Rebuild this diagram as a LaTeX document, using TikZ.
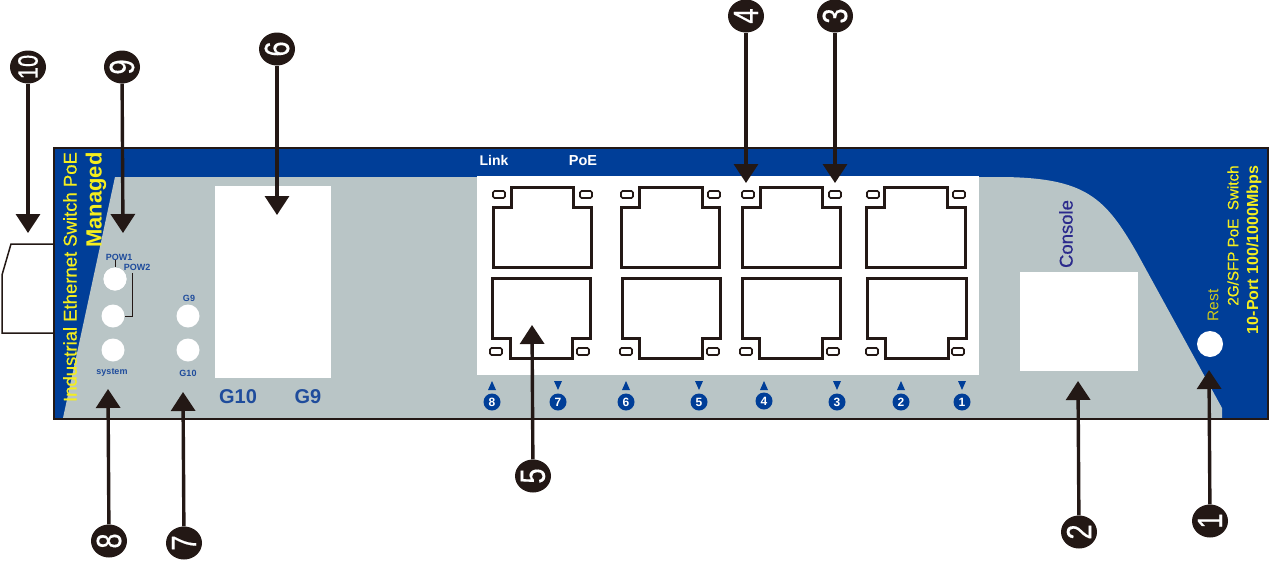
\documentclass[tikz,border=0pt]{standalone}
\usepackage{fontspec}
\setmainfont{Liberation Sans}
\newfontfamily\medfont[FakeBold=0.4]{Liberation Sans}
\usetikzlibrary{arrows.meta,shapes.geometric}
\definecolor{panelblue}{HTML}{003E98}
\definecolor{panelgrey}{HTML}{B9C5C6}
\definecolor{inkdark}{HTML}{231815}
\definecolor{labelblue}{HTML}{1F4C9C}
\definecolor{consoleblue}{HTML}{2B2A8C}
\definecolor{yellowtxt}{HTML}{F5EE1E}
\newcommand{\fs}[1]{\fontsize{#1}{#1}\selectfont}
\newcommand{\tallnum}[1]{\scalebox{0.78}[1]{#1}}
\tikzset{
  portline/.style={draw=inkdark,line width=3pt,fill=white,miter limit=10},
  ledbox/.style={draw=inkdark,line width=1.7pt,fill=white,rounded corners=1.5pt},
  hole/.style={circle,fill=white,draw=none,inner sep=0pt,minimum size=23pt},
  callout/.style={ellipse,fill=inkdark,draw=none,inner sep=-4pt,minimum width=33pt,minimum height=36pt,text=white,font=\medfont\fs{35},rotate=90},
  callarrow/.style={draw=inkdark,line width=3.4pt,-{Triangle[width=24pt,length=19pt,fill=inkdark]}},
  lbl/.style={inner sep=0pt,text=labelblue,font=\fs{9}\bfseries},
  biglbl/.style={inner sep=0pt,text=labelblue,font=\fs{20}\bfseries},
  yvert/.style={inner sep=0pt,text=yellowtxt,rotate=90},
  portnum/.style={circle,fill=panelblue,inner sep=0pt,minimum size=17pt,text=white,font=\fs{12}\bfseries},
  tri/.style={fill=panelblue,draw=none},
}
\newcommand{\PortUp}[6]{
  \draw[portline] (#1,207)--(#2,207)--(#2,187)--(#3,187)--(#3,207)--(#4,207)--(#4,267)--(#1,267)--cycle;
  \draw[ledbox] (#5,191) rectangle ++(12,7);
  \draw[ledbox] (#6,191) rectangle ++(12,7);
}
\newcommand{\PortDown}[6]{
  \draw[portline] (#1,278)--(#4,278)--(#4,338)--(#3,338)--(#3,358)--(#2,358)--(#2,338)--(#1,338)--cycle;
  \draw[ledbox] (#5,348) rectangle ++(12,7);
  \draw[ledbox] (#6,348) rectangle ++(12,7);
}
\begin{document}
\begin{tikzpicture}[x=1pt,y=-1pt]
\useasboundingbox (0,0) rectangle (1269,560);
% left module
\draw[draw=inkdark,line width=1.5pt,fill=white] (54,244)--(11,244)--(2,275)--(2,333)--(54,333);
% panel
\fill[panelblue] (54,148) rectangle (1268,419);
\fill[panelgrey] (115,177)--(1003,177)
  .. controls (1085,178) and (1105,197) .. (1137,253)
  --(1222,408)--(1222,418)--(63,418)--cycle;
\draw[inkdark,line width=1.5pt] (54,148) rectangle (1268,419);
% white zones
\fill[white] (477,176) rectangle (979,375);
\fill[white] (215,186) rectangle (331,378);
\fill[white] (1020,272) rectangle (1138,371);
% ports
\PortUp{493}{511}{573}{591}{493}{580}
\PortUp{621}{639}{702}{719}{621}{708}
\PortUp{742}{760}{822}{840}{742}{829}
\PortUp{866}{884}{947}{965}{867}{953}
\PortDown{492}{510}{572}{590}{490}{577}
\PortDown{622}{639}{702}{720}{620}{707}
\PortDown{742}{759}{822}{840}{740}{827}
\PortDown{867}{885}{948}{966}{866}{952}
% top labels
\node[inner sep=0pt,text=white,font=\fs{14}\bfseries] (link) at (494,160) {Link};
\node[inner sep=0pt,text=white,font=\fs{14.5}\bfseries] (poe) at (583,161) {PoE};
% port numbers
\foreach \nn/\px/\py/\updir in {8/492/402/1,7/558/402/0,6/626/402/1,5/699/402/0,4/764/401/1,3/837/402/0,2/901/402/1,1/962/402/0}{
  \node[portnum] (pn\nn) at (\px,\py) {\nn};
  \ifnum\updir=1
    \fill[tri] (\px-4,390)--(\px+4,390)--(\px,381)--cycle;
  \else
    \fill[tri] (\px-4,381)--(\px+4,381)--(\px,390)--cycle;
  \fi
}
% leds
\node[hole] (pow1) at (115,279) {};
\node[hole] (pow2) at (113,316) {};
\node[hole] (sys) at (113,350) {};
\node[hole] (g9led) at (188,316) {};
\node[hole] (g10led) at (188,350) {};
\node[hole,minimum size=26pt] (rest) at (1210,344) {};
\node[lbl] (pow1t) at (119,257) {POW1};
\node[lbl] (pow2t) at (137,267) {POW2};
\node[lbl] (syst) at (112,372) {system};
\node[lbl] (g9t) at (189,298) {G9};
\node[lbl] (g10t) at (188,373) {G10};
\node[biglbl] (g10b) at (238,397) {G10};
\node[biglbl] (g9b) at (308,397) {G9};
\draw[inkdark,line width=1pt] (pow1t.south -| pow1) -- (pow1);
\coordinate (pow2a) at (132,273);
\coordinate (pow2b) at (132,316);
\draw[inkdark,line width=1pt] (pow2a)--(pow2b)--(pow2.east);
\node[hole] at (115,279) {};
% vertical text
\node[yvert,font=\medfont\fs{18.5}] (ind) at (70,277) {Industrial Ethernet Switch PoE};
\node[yvert,font=\fs{22}\bfseries] (mgd) at (96,200) {Managed};
\node[yvert,font=\medfont\fs{15.2}] (sw) at (1233,235.5) {2G/SFP PoE\ \ Switch};
\node[yvert,font=\fs{16}\bfseries] (tp) at (1254,250) {10-Port 100/1000Mbps};
\node[yvert,font=\fs{15.5},text=yellowtxt!85!black] (rst) at (1213,305.5) {Rest};
\node[inner sep=0pt,rotate=90,text=consoleblue,font=\medfont\fs{18.5}] (cons) at (1066,234) {Console};
% callouts
\node[callout,font=\medfont\fs{28}] (c10) at (28,67) {\tallnum{10}};
\node[callout] (c9) at (122,67) {\tallnum{9}};
\node[callout] (c6) at (277,49) {\tallnum{6}};
\node[callout] (c4) at (746,16) {\tallnum{4}};
\node[callout] (c3) at (835,16) {\tallnum{3}};
\node[callout] (c5) at (533,476) {\tallnum{5}};
\node[callout] (c8) at (109,541) {\tallnum{8}};
\node[callout] (c7) at (184,543) {\tallnum{7}};
\node[callout] (c2) at (1079,532) {\tallnum{2}};
\node[callout] (c1) at (1210,521) {\tallnum{1}};
\coordinate (t10) at (28,233);
\coordinate (t9) at (123,233);
\coordinate (t6) at (277,215);
\coordinate (t4) at (746,183);
\coordinate (t3) at (835,183);
\coordinate (t5) at (532,325);
\coordinate (t8) at (108,389);
\coordinate (t7) at (183,392);
\coordinate (t2) at (1078,381);
\coordinate (t1) at (1209,370);
\foreach \k in {10,9,6,4,3,5,8,7,2,1}{
  \draw[callarrow] (c\k) -- (t\k);
}
\end{tikzpicture}
\end{document}
